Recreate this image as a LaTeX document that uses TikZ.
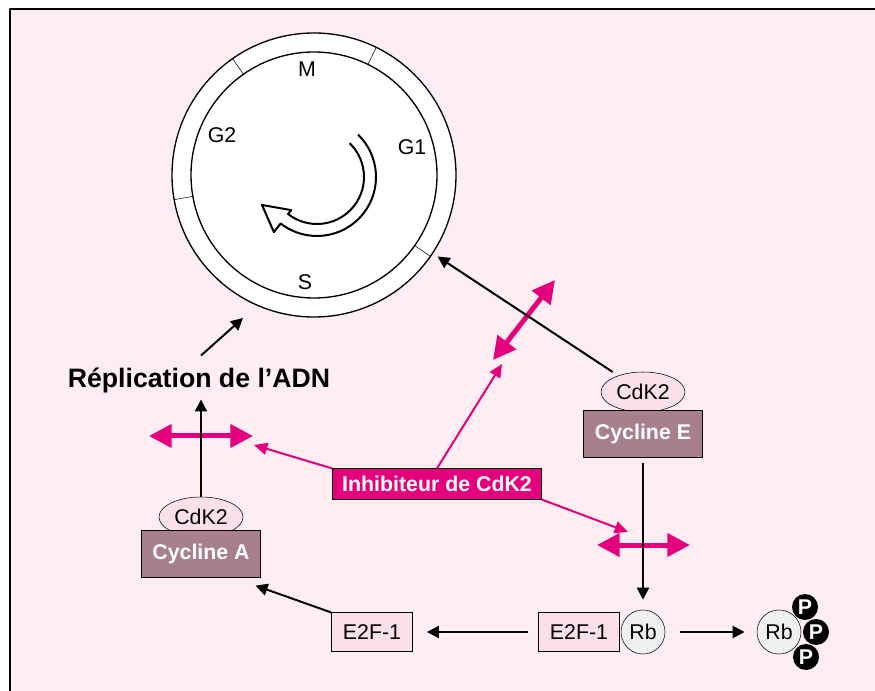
\documentclass[tikz,border=0pt]{standalone}
\usepackage{fontspec}
\setmainfont{Liberation Sans}
\usetikzlibrary{arrows.meta,shapes.geometric}
\definecolor{fond}{RGB}{255,238,241}
\definecolor{rosevif}{RGB}{228,0,124}
\definecolor{mauve}{RGB}{168,128,141}
\definecolor{rosepale}{RGB}{251,224,233}
\definecolor{grisrb}{RGB}{240,240,240}
\newcommand{\taille}{\fontsize{16}{19}\selectfont}
\newcommand{\titre}{\fontsize{20}{24}\selectfont\bfseries}
\begin{document}
\begin{tikzpicture}[x=0.75pt,y=-0.75pt,line join=round,font=\taille,
	fleche/.style={-{Triangle[length=9pt,width=9pt]},line width=1.5pt},
	vise/.style={-{Triangle[length=10pt,width=9pt]},rosevif,line width=1.5pt},
	bloque/.style={{Triangle[length=17pt,width=17pt]}-{Triangle[length=17pt,width=17pt]},rosevif,line width=3.75pt},
	cycline/.style={draw,fill=mauve,text=white,font=\taille\bfseries,minimum width=89pt,minimum height=35pt},
	cdk/.style={ellipse,draw,fill=rosepale,minimum width=63pt,minimum height=30pt,inner sep=0pt},
	facteur/.style={draw,fill=rosepale,minimum width=61pt,minimum height=29pt},
	rb/.style={circle,draw,fill=grisrb,minimum size=33pt,inner sep=0pt},
	phos/.style={circle,fill=black,minimum size=19.5pt,inner sep=0pt,text=white,font=\taille\bfseries}]
	\useasboundingbox (0,0) rectangle (875,691);
	% fond et cadre
	\fill[fond] (10,9) rectangle (875,691);
	\draw[line width=1pt] (10,691) -- (10,9) -- (875,9);
	% cycle cellulaire
	\node[circle,draw,line width=1pt,fill=white,minimum size=213pt,inner sep=0pt] (phases) at (314,175) {};
	\draw[line width=1pt] (phases.center) circle[radius=123];
	\foreach \a in {-125,-64,35,170} \draw ([shift={(\a:123)}]phases.center) -- ([shift={(\a:142)}]phases.center);
	\foreach \nom/\pos in {M/{(307,69)},G2/{(222,135)},G1/{(412,147)},S/{(305,282)}} \node (ph\nom) at \pos {\nom};
	% fleche du cycle
	\coordinate (O) at (317,177);
	\coordinate (pointe) at (262,205);
	\draw[line width=1.5pt] ([shift={(-46:47)}]O) arc[start angle=-46,end angle=128,radius=47]
		-- ([shift={(128:42)}]O) -- (pointe) -- ([shift={(128:70)}]O) -- ([shift={(128:59)}]O)
		arc[start angle=128,end angle=-46,radius=59];
	% noeuds
	\node[font=\titre,inner sep=2pt] (rep) at (199,380) {Réplication de l’ADN};
	\node[cdk] (cdkA) at (201,517) {CdK2};
	\node[cycline] (cycA) at (201,554) {Cycline A};
	\node[cdk] (cdkE) at (643,392) {CdK2};
	\node[cycline] (cycE) at (643,434) {Cycline E};
	\node[draw,fill=rosevif,text=white,font=\taille\bfseries,minimum width=157pt,minimum height=23pt,inner sep=2pt] (inh) at (437,484) {Inhibiteur de CdK2};
	\node[facteur] (e2fA) at (372,632) {E2F-1};
	\node[facteur] (e2f) at (579,632) {E2F-1};
	\node[rb] (rb) at (643,632) {Rb};
	\foreach \i/\pos in {1/{(805,607)},2/{(816,632)},3/{(806,657)}} \node[phos] (P\i) at \pos {P};
	\node[rb] (rbP) at (779,632) {Rb};
	% inhibition
	\coordinate (bA1) at (149,436); \coordinate (bA2) at (253,436);
	\coordinate (bS1) at (493,360); \coordinate (bS2) at (555,280);
	\coordinate (bE1) at (597,545); \coordinate (bE2) at (690,545);
	\foreach \z in {A,S,E} \draw[bloque] (b\z1) -- (b\z2);
	\coordinate (vA) at (254,445);
	\coordinate (vS) at (502,364);
	\coordinate (vE) at (628,532);
	\draw[vise] (inh.north west) -- (vA);
	\draw[vise] (inh.north) -- (vS);
	\draw[vise] (inh.south east) -- (vE);
	% fleches noires
	\coordinate (pS) at (243,318);
	\draw[fleche] (rep.north) ++(2,-9) -- (pS);
	\draw[fleche,shorten >=3pt] (cdkA) -- (cdkA |- rep.south);
	\draw[fleche,shorten <=5pt,shorten >=4pt] (cdkE) -- (phases);
	\draw[fleche,shorten <=4pt,shorten >=7.5pt] (cycE) -- (rb);
	\draw[fleche,shorten <=7.5pt,shorten >=10.5pt] (e2f) -- (e2fA);
	\draw[fleche] (e2fA.north west) -- ([shift={(-5,8)}]cycA.south east);
	\draw[fleche,shorten <=11pt,shorten >=9pt] (rb) -- (rbP);
\end{tikzpicture}
\end{document}
